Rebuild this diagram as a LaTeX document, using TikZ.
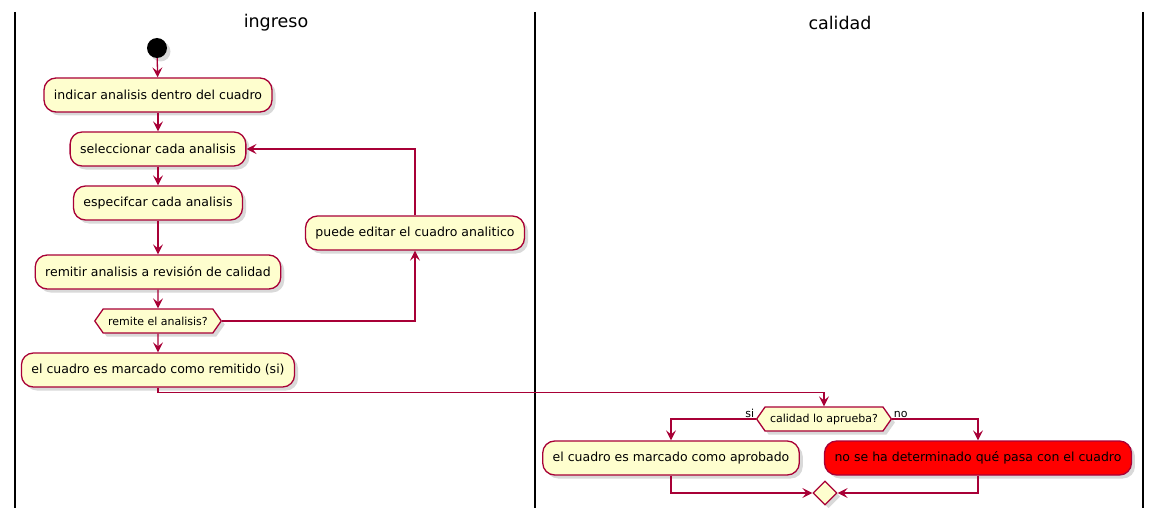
\documentclass[tikz,border=0pt]{standalone}
\usepackage{fontspec}
\setmainfont{DejaVu Sans}
\usepackage{tikz}
\usetikzlibrary{arrows.meta,shapes.geometric,shapes.symbols,shadows}
\definecolor{umlfill}{HTML}{FEFECE}
\definecolor{umlline}{HTML}{A80036}
\tikzstyle{shade}=[drop shadow={opacity=0.3,shadow xshift=3.5pt,shadow yshift=-3.5pt}]
\tikzstyle{act}=[draw=umlline, fill=umlfill, line width=1.3pt, rounded corners=12pt,
  minimum height=34pt, inner xsep=10pt, font=\fontsize{12.5}{15}\selectfont, shade]
\tikzstyle{hexa}=[draw=umlline, fill=umlfill, line width=1.3pt, signal, signal to=west and east,
  signal pointer angle=110, minimum height=24pt, inner xsep=5pt, inner ysep=2pt,
  font=\fontsize{11}{13}\selectfont, shade]
\tikzstyle{flow}=[draw=umlline, line width=1.3pt, -{Stealth[length=10pt,width=10pt,inset=4pt]}]
\tikzstyle{lane}=[line width=2pt, black]
\tikzstyle{lbl}=[font=\fontsize{11}{13}\selectfont, inner sep=1pt]

\begin{document}
\begin{tikzpicture}[x=1pt,y=-1pt]
\useasboundingbox (0,0) rectangle (1162,516);
\draw[lane] (15,12) -- (15,508);
\draw[lane] (535,12) -- (535,508);
\draw[lane] (1143,12) -- (1143,508);
\node[font=\fontsize{17.5}{20}\selectfont] (ingreso) at (276,23) {ingreso};
\node[font=\fontsize{17.5}{20}\selectfont] (calidad) at (840,23) {calidad};

% ingreso
\node[circle, fill=black, minimum size=20pt, inner sep=0pt, shade] (start) at (157,48) {};
\node[act] (indicar) at (158,95) {indicar analisis dentro del cuadro};
\node[act] (selec) at (158,149) {seleccionar cada analisis};
\node[act] (espec) at (158,203) {especifcar cada analisis};
\node[act] (remitir) at (158,272) {remitir analisis a revisión de calidad};
\node[hexa] (remite) at (158,321) {remite el analisis?};
\node[act] (remitido) at (158,370) {el cuadro es marcado como remitido (si)};
\node[act] (editar) at (415,233) {puede editar el cuadro analitico};

% calidad
\node[hexa] (aprueba) at (824,419) {calidad lo aprueba?};
\node[act] (aprobado) at (671,458) {el cuadro es marcado como aprobado};
\node[act, fill=red] (nodet) at (978,458) {no se ha determinado qué pasa con el cuadro};
\node[diamond, draw=umlline, fill=umlfill, line width=1.3pt, minimum width=24pt,
  minimum height=24pt, inner sep=0pt, shade] (merge) at (825,493) {};

\draw[flow] (start) -- (indicar);
\draw[flow] (indicar) -- (selec);
\draw[flow] (selec) -- (espec);
\draw[flow] (espec) -- (remitir);
\draw[flow] (remitir) -- (remite);
\draw[flow] (remite) -- (remitido);
\draw[flow] (remite.east) -| (editar.south);
\draw[flow] (editar.north) |- (selec.east);
\draw[flow] (remitido.south) -- ++(0,5) -| (aprueba.north);
\draw[flow] (aprueba.west) node[lbl, anchor=south east] {si} -| (aprobado.north);
\draw[flow] (aprueba.east) node[lbl, anchor=south west] {no} -| (nodet.north);
\draw[flow] (aprobado.south) |- (merge.west);
\draw[flow] (nodet.south) |- (merge.east);
\end{tikzpicture}
\end{document}
